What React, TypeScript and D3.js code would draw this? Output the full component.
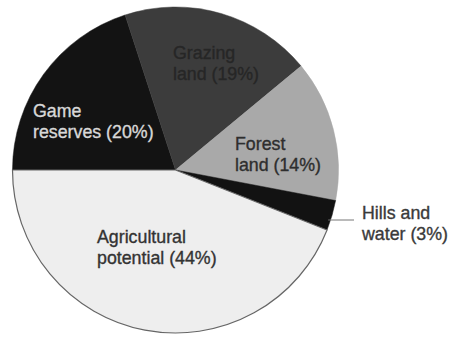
import React from "react";
import * as d3 from "d3";

const categories = ["Game reserves", "Grazing land", "Forest land", "Hills and water", "Agricultural potential"];
const values = [20, 19, 14, 3, 44];
const labelLines = [
  ["Game", "reserves (20%)"],
  ["Grazing", "land (19%)"],
  ["Forest", "land (14%)"],
  ["Hills and", "water (3%)"],
  ["Agricultural", "potential (44%)"],
];

const fills = ["#131313", "#3c3c3c", "#a9a9a9", "#121212", "#eeeeee"];
const textColors = ["#d8d8d8", "#262626", "#2e2e2e", "#3a3a3a", "#333333"];
const labelPos: [number, number][] = [
  [33, 117],
  [173, 59],
  [235, 150],
  [362, 219],
  [97, 243],
];

export default function App() {
  const W = 450, H = 337;
  const cx = 175.5, cy = 170, r = 163;
  const startAngle = (270 * Math.PI) / 180;
  const pie = d3
    .pie<number>()
    .sort(null)
    .value((d) => d)
    .startAngle(startAngle)
    .endAngle(startAngle + 2 * Math.PI);
  const arcs = pie(values);
  const arc = d3.arc<d3.PieArcDatum<number>>().innerRadius(0).outerRadius(r);
  const hills = arcs[3];
  const mid = (hills.startAngle + hills.endAngle) / 2;
  const lx0 = cx + Math.sin(mid) * (r - 4);
  const ly = 220;
  return (
    <svg width={W} height={H} style={{ position: "absolute", left: 0, top: 0, background: "#fff" }}>
      <g transform={`translate(${cx},${cy})`}>
        {arcs.map((a, i) => (
          <path key={categories[i]} d={arc(a) || ""} fill={fills[i]} stroke={i === 4 ? "#666" : fills[i]} strokeWidth={i === 4 ? 1.2 : 0.5} />
        ))}
      </g>
      <line x1={lx0} x2={354} y1={ly} y2={ly} stroke="#777" strokeWidth={1} />
      {labelLines.map((lines, i) => (
        <text
          key={categories[i]}
          x={labelPos[i][0]}
          y={labelPos[i][1]}
          fill={textColors[i]}
          stroke={textColors[i]}
          strokeWidth={0.35}
          fontFamily="Liberation Sans, Arial, sans-serif"
          fontSize={17.8}
        >
          {lines.map((l, j) => (
            <tspan key={j} x={labelPos[i][0]} dy={j === 0 ? 0 : 21}>
              {l}
            </tspan>
          ))}
        </text>
      ))}
    </svg>
  );
}
